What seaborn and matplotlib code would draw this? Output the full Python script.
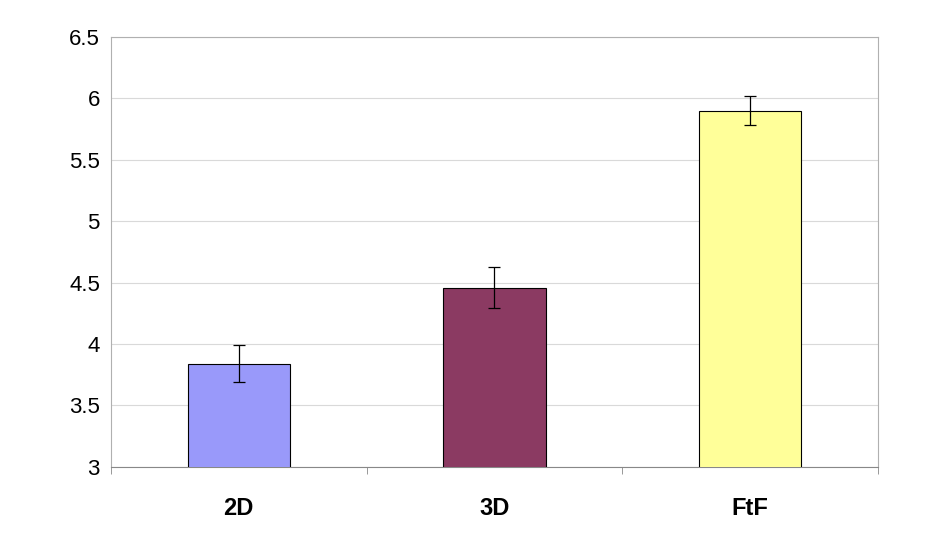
import matplotlib
matplotlib.use("Agg")
import matplotlib.pyplot as plt
import seaborn as sns
import pandas as pd

categories = ["2D", "3D", "FtF"]
means = [3.84, 4.46, 5.90]
errors = [0.15, 0.17, 0.12]
colors = ["#9999FA", "#8B3A62", "#FFFF99"]

df = pd.DataFrame({"cond": categories, "mean": means})

sns.set_style("white")
plt.rcParams["font.family"] = ["Liberation Sans", "DejaVu Sans"]

fig = plt.figure(figsize=(9.28, 5.48), dpi=100)
ax = fig.add_axes([0.1196, 0.148, 0.8264, 0.7845])

sns.barplot(data=df, x="cond", y="mean", hue="cond", palette=colors, saturation=1,
            width=0.4, edgecolor="black", linewidth=0.8, legend=False, ax=ax, zorder=3)
ax.errorbar(range(len(categories)), means, yerr=errors, fmt="none",
            ecolor="black", elinewidth=0.9, capsize=4, capthick=0.9, zorder=4)

ax.set_ylim(3, 6.5)
ax.set_xlim(-0.5, 2.5)
ax.set_yticks([3, 3.5, 4, 4.5, 5, 5.5, 6, 6.5])
ax.set_yticklabels(["3", "3.5", "4", "4.5", "5", "5.5", "6", "6.5"], fontsize=16, color="black")
ax.yaxis.grid(True, color="#d9d9d9", linewidth=0.8, zorder=0)
ax.set_xticks([0, 1, 2])
ax.set_xticklabels(categories, fontsize=17, fontweight="bold", color="black")
ax.tick_params(axis="x", length=0, pad=22)
ax.set_xticks([-0.5, 0.5, 1.5, 2.5], minor=True)
ax.tick_params(axis="x", which="minor", direction="out", length=5, color="#888888", bottom=True)
ax.tick_params(axis="y", length=0, pad=8)
ax.set_xlabel("")
ax.set_ylabel("")
for side in ["top", "right", "left"]:
    ax.spines[side].set_color("#b0b0b0")
ax.spines["bottom"].set_color("#888888")

fig.savefig("out.png", dpi=100)
